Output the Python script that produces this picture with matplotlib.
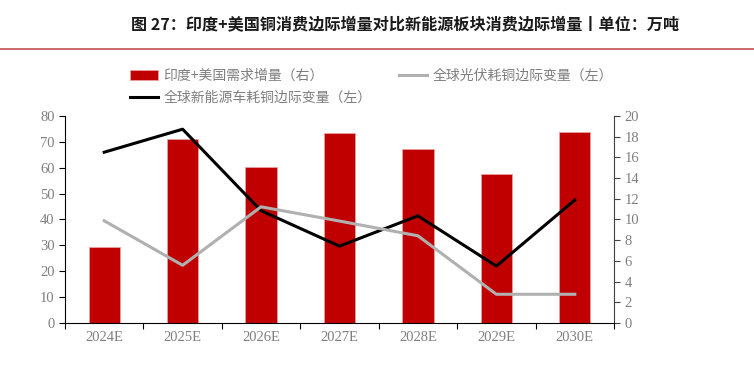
import numpy as np
import matplotlib.pyplot as plt
from matplotlib.lines import Line2D

plt.rcParams['font.family'] = ['Noto Sans CJK SC', 'DejaVu Sans']

years = ['2024E', '2025E', '2026E', '2027E', '2028E', '2029E', '2030E']
india_us = [7.3, 17.8, 15.1, 18.4, 16.8, 14.4, 18.5]      # right axis
pv_copy = [39.5, 22.3, 44.9, 39.4, 33.7, 11.1, 11.1]     # left axis
nev_copy = [66.0, 74.9, 43.4, 29.7, 41.4, 22.0, 47.5]    # left axis

title = '图 27：印度+美国铜消费边际增量对比新能源板块消费边际增量丨单位：万吨'
label_bar = '印度+美国需求增量（右）'
label_pv = '全球光伏耗铜边际变量（左）'
label_nev = '全球新能源车耗铜边际变量（左）'

tick_color = '#7f7f7f'
serif = ['Liberation Serif', 'DejaVu Serif']

fig = plt.figure(figsize=(7.54, 3.89), dpi=100)
ax = fig.add_axes([0.0862, 0.1697, 0.7281, 0.5321])
ax2 = ax.twinx()
ax.set_zorder(ax2.get_zorder() + 1)
ax.patch.set_visible(False)

x = np.arange(len(years))
bars = ax2.bar(x, india_us, width=0.4, color='#C00000', edgecolor='#E8A0A0',
               linewidth=0.6, label=label_bar)
l_nev, = ax.plot(x, nev_copy, color='black', lw=2.2, label=label_nev)
l_pv, = ax.plot(x, pv_copy, color='#B0B0B0', lw=2.2, label=label_pv)

ax.set_xlim(-0.5, len(years) - 0.5)
ax.set_ylim(0, 80)
ax2.set_ylim(0, 20)
ax.set_yticks(np.arange(0, 81, 10))
ax2.set_yticks(np.arange(0, 21, 2))

ax.set_xticks(np.arange(-0.5, len(years)), minor=False)
ax.set_xticklabels([])
ax.set_xticks(x, minor=True)
ax.set_xticklabels(years, minor=True)
ax.tick_params(axis='x', which='major', length=4, direction='out', color='black')
ax.tick_params(axis='x', which='minor', length=0, pad=6)

for a in (ax, ax2):
    for lab in a.get_yticklabels() + a.get_xticklabels(minor=True):
        lab.set_family(serif)
        lab.set_fontsize(10.5)
        lab.set_color(tick_color)
ax.tick_params(axis='y', length=4, color='black')
ax2.tick_params(axis='y', length=4, color='#404040')

for a in (ax, ax2):
    a.spines['top'].set_visible(False)
ax.spines['right'].set_visible(False)
ax2.spines['left'].set_visible(False)
ax2.spines['bottom'].set_visible(False)
ax.spines['left'].set_color('black')
ax2.spines['right'].set_color('#404040')
ax.spines['bottom'].set_color('black')

leg = fig.legend([bars, l_nev, l_pv], [label_bar, label_nev, label_pv],
                 ncol=2, loc='upper left', bbox_to_anchor=(0.156, 0.855),
                 frameon=False, fontsize=10, handlelength=2.0,
                 columnspacing=2.0, labelspacing=0.55, handletextpad=0.4)
for t in leg.get_texts():
    t.set_color('#7f7f7f')

fig.text(0.537, 0.935, title, ha='center', va='center', fontsize=11.6,
         fontweight='bold', color='#1a1a1a')
fig.add_artist(Line2D([0, 1], [1 - 49 / 389] * 2, color='#C0504D', lw=1.2,
                      transform=fig.transFigure))

fig.savefig('out.png', dpi=100)
